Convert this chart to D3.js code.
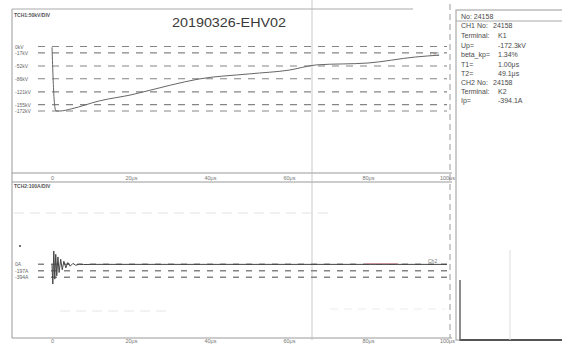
<!DOCTYPE html>
<html><head><meta charset="utf-8">
<script src="https://cdn.jsdelivr.net/npm/d3@7/dist/d3.min.js"></script>
<style>
html,body{margin:0;padding:0;background:#fff;}
svg{display:block;font-family:"Liberation Sans",Arial,sans-serif;}
</style></head>
<body>
<svg id="c" width="562" height="348"></svg>
<script>
// ---- data ----
const title = "20190326-EHV02";
const timeTicks = [0, 20, 40, 60, 80, 100];
const timeTickLabels = ["0", "20μs", "40μs", "60μs", "80μs", "100μs"];
// CH1 voltage (kV) vs time (μs)
const vTime = [0, 0.6, 1, 2, 5, 12, 20, 30, 37, 50, 60, 67, 80, 92, 98];
const vVal  = [-2, -150, -172, -172, -166, -145, -129, -103, -87, -73, -63, -49, -44, -28, -23];
const vLevels = [0, -17, -52, -86, -121, -155, -172];
const vLevelLabels = ["0kV", "-17kV", "-52kV", "-86kV", "-121kV", "-155kV", "-172kV"];
// CH2 current (A) vs time (μs)
const iTime = [0, 0.2, 0.45, 0.7, 0.95, 1.2, 1.5, 1.8, 2.2, 2.6, 3, 3.5, 4, 4.6, 5.3, 6, 7, 8, 10, 100];
const iVal  = [0, -600, 400, -450, 300, -350, 220, -250, 150, -170, 90, -110, 50, -60, 25, -30, 0, -10, -5, -5];
const iLevels = [0, -197, -394];
const iLevelLabels = ["0A", "-197A", "-394A"];
const infoLabels = ["No: 24158", "CH1 No:", "Terminal:", "Up=", "beta_kp=", "T1=", "T2=", "CH2 No:", "Terminal:", "Ip="];
const infoValues = ["", "24158", "K1", "-172.3kV", "1.34%", "1.00μs", "49.1μs", "24158", "K2", "-394.1A"];

// ---- drawing ----
const svg = d3.select("#c");
const x = d3.scaleLinear().domain([-10.13, 101.27]).range([12, 452]);
const yV = d3.scaleLinear().domain([100, -340]).range([9, 174]);
const yI = d3.scaleLinear().domain([2485, -2230]).range([182, 338]);
const lineCol = "#858585", textCol = "#4a4a4a";

// frames
svg.append("line").attr("x1",12).attr("x2",413).attr("y1",9).attr("y2",9).attr("stroke","#aaa");
svg.append("line").attr("x1",12).attr("x2",12).attr("y1",9).attr("y2",338).attr("stroke","#999");
svg.append("line").attr("x1",12).attr("x2",452).attr("y1",173).attr("y2",173).attr("stroke","#999");
svg.append("line").attr("x1",12).attr("x2",452).attr("y1",182).attr("y2",182).attr("stroke","#999");
svg.append("line").attr("x1",12).attr("x2",452).attr("y1",338).attr("y2",338).attr("stroke","#999");
svg.append("line").attr("x1",312).attr("x2",312).attr("y1",0).attr("y2",340).attr("stroke","#bbb").attr("stroke-width",0.8);
svg.append("line").attr("x1",450).attr("x2",450).attr("y1",4).attr("y2",338).attr("stroke","#999").attr("stroke-dasharray","6,4");

// title and channel headers
svg.append("text").attr("x",172).attr("y",27).attr("font-size",12.5).attr("fill","#3a3a3a")
  .attr("textLength",114).attr("lengthAdjust","spacingAndGlyphs").text(title);
svg.append("text").attr("x",14).attr("y",17).attr("font-size",5).attr("font-weight","bold").attr("fill","#555").text("TCH1:50kV/DIV");
svg.append("text").attr("x",14).attr("y",188).attr("font-size",5).attr("font-weight","bold").attr("fill","#555").text("TCH2:100A/DIV");

// grid levels (dashed)
svg.append("g").selectAll("line").data(vLevels).join("line")
  .attr("x1",38).attr("x2",447).attr("y1",d=>yV(d)).attr("y2",d=>yV(d))
  .attr("stroke",lineCol).attr("stroke-width",1.1).attr("stroke-dasharray","7,7");
svg.append("g").selectAll("line").data(iLevels).join("line")
  .attr("x1",38).attr("x2",447).attr("y1",d=>yI(d)).attr("y2",d=>yI(d))
  .attr("stroke",lineCol).attr("stroke-width",1.4).attr("stroke-dasharray","6,7");
// faint dashed lines in lower panel
svg.append("line").attr("x1",14).attr("x2",330).attr("y1",213).attr("y2",213).attr("stroke","#e2e2e2").attr("stroke-dasharray","10,6");
svg.append("line").attr("x1",60).attr("x2",170).attr("y1",311).attr("y2",311).attr("stroke","#e6e6e6").attr("stroke-dasharray","10,6");
svg.append("line").attr("x1",330).attr("x2",445).attr("y1",309).attr("y2",309).attr("stroke","#ececec").attr("stroke-dasharray","8,6");
svg.append("line").attr("x1",365).attr("x2",398).attr("y1",yI(0)-0.5).attr("y2",yI(0)-0.5).attr("stroke","#dba3ad").attr("stroke-width",1.2);

// level axes (labels inside, right of the left border)
const aV = d3.axisRight(yV).tickValues(vLevels).tickSize(0).tickPadding(3).tickFormat((d,i)=>vLevelLabels[i]);
const gV = svg.append("g").attr("transform","translate(12,0)").call(aV);
gV.select(".domain").remove();
gV.selectAll("text").attr("font-size",5).attr("fill","#666").attr("font-family","Liberation Sans, Arial");
const aI = d3.axisRight(yI).tickValues(iLevels).tickSize(0).tickPadding(3).tickFormat((d,i)=>iLevelLabels[i]);
const gI = svg.append("g").attr("transform","translate(12,0)").call(aI);
gI.select(".domain").remove();
gI.selectAll("text").attr("font-size",5).attr("fill","#666").attr("font-family","Liberation Sans, Arial");
svg.append("circle").attr("cx",20).attr("cy",246).attr("r",1).attr("fill","#444");

// time axes
[[173,3],[338,1.5]].forEach(([yy,pad])=>{
  const ax = d3.axisBottom(x).tickValues(timeTicks).tickSize(0).tickPadding(pad).tickFormat((d,i)=>timeTickLabels[i]);
  const g = svg.append("g").attr("transform",`translate(0,${yy})`).call(ax);
  g.select(".domain").remove();
  g.selectAll("text").attr("font-size",5.5).attr("fill","#777").attr("font-family","Liberation Sans, Arial");
});

// traces
const vData = vTime.map((t,i)=>[t,vVal[i]]);
svg.append("path").datum(vData)
  .attr("d", d3.line().x(d=>x(d[0])).y(d=>yV(d[1])).curve(d3.curveMonotoneX))
  .attr("fill","none").attr("stroke","#666").attr("stroke-width",1);
const iData = iTime.map((t,i)=>[t,iVal[i]]);
svg.append("path").datum(iData)
  .attr("d", d3.line().x(d=>x(d[0])).y(d=>yI(d[1])))
  .attr("fill","none").attr("stroke","#444").attr("stroke-width",1);
svg.append("text").attr("x",430).attr("y",yV(-20)+2).attr("font-size",5).attr("fill","#777").text("Ch1");
svg.append("text").attr("x",428).attr("y",yI(0)-1.5).attr("font-size",5).attr("fill","#777").text("Ch2");

// info panel
svg.append("rect").attr("x",456).attr("y",10).attr("width",110).attr("height",330)
  .attr("fill","none").attr("stroke","#999");
svg.append("line").attr("x1",456).attr("x2",562).attr("y1",21).attr("y2",21).attr("stroke","#aaa");
svg.append("line").attr("x1",460).attr("x2",562).attr("y1",340).attr("y2",340).attr("stroke","#555").attr("stroke-width",2);
svg.append("line").attr("x1",460).attr("x2",460).attr("y1",280).attr("y2",341).attr("stroke","#666").attr("stroke-width",1.5);
svg.append("line").attr("x1",510).attr("x2",510).attr("y1",250).attr("y2",340).attr("stroke","#ddd");
const rowsY = [18.5, 28, 38, 48, 57, 66.5, 75.5, 85, 94, 103];
const info = svg.append("g").attr("font-size",7).attr("fill",textCol);
info.selectAll("text.l").data(infoLabels).join("text").attr("class","l")
  .attr("x",461).attr("y",(d,i)=>rowsY[i]).text(d=>d);
info.selectAll("text.v").data(infoValues).join("text").attr("class","v")
  .attr("x",(d,i)=>i===1||i===7?493:498).attr("y",(d,i)=>rowsY[i]).text(d=>d);
</script>
</body></html>
